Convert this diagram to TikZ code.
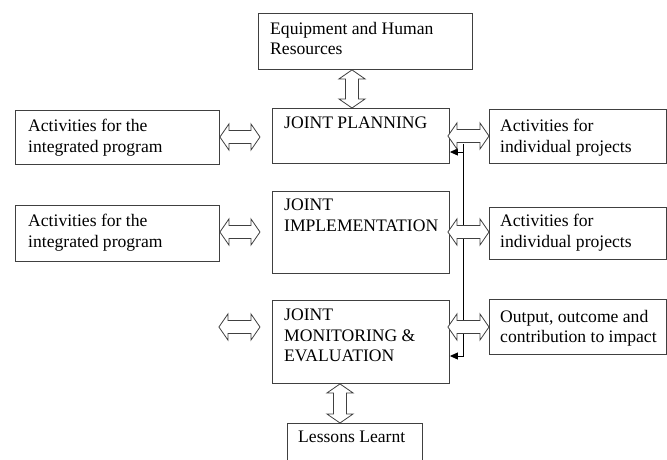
\documentclass[tikz,border=0pt]{standalone}
\usepackage{fontspec}
\setmainfont{Liberation Serif}
\usetikzlibrary{arrows.meta,calc}
\tikzset{
  box/.style={draw=black!75, line width=0.9pt, inner sep=0, fill=none},
  txt/.style={anchor=north west, inner sep=0, align=left, font=\fontsize{17.6}{20.5}\selectfont},
  hdbl/.style={draw=black!75, line width=0.8pt, fill=white,
    to path={let \p1=(\tikztostart), \p2=(\tikztotarget) in
      (\x1,\y1) -- (\x1+9pt,\y1+13pt) -- (\x1+9pt,\y1+6.5pt) -- (\x2-9pt,\y1+6.5pt) -- (\x2-9pt,\y1+13pt)
      -- (\x2,\y1) -- (\x2-9pt,\y1-13pt) -- (\x2-9pt,\y1-6.5pt) -- (\x1+9pt,\y1-6.5pt) -- (\x1+9pt,\y1-13pt) -- cycle}},
  vdbl/.style={draw=black!75, line width=0.8pt, fill=white,
    to path={let \p1=(\tikztostart), \p2=(\tikztotarget) in
      (\x1,\y1) -- (\x1+13pt,\y1-9pt) -- (\x1+6.5pt,\y1-9pt) -- (\x1+6.5pt,\y2+9pt) -- (\x1+13pt,\y2+9pt)
      -- (\x1,\y2) -- (\x1-13pt,\y2+9pt) -- (\x1-6.5pt,\y2+9pt) -- (\x1-6.5pt,\y1-9pt) -- (\x1-13pt,\y1-9pt) -- cycle}},
  fb/.style={draw=black, line width=0.9pt, -{Triangle[length=8pt,width=7pt]}}
}
\begin{document}
\begin{tikzpicture}[x=1pt,y=-1pt]
\useasboundingbox (0,0) rectangle (667,459);
\clip (0,0) rectangle (667,459);
% boxes
\node[box, minimum width=214pt, minimum height=56pt, anchor=north west] (equip) at (258,13) {};
\node[box, minimum width=177pt, minimum height=55pt, anchor=north west] (plan) at (272,108) {};
\node[box, minimum width=177pt, minimum height=82pt, anchor=north west] (impl) at (272,191) {};
\node[box, minimum width=177pt, minimum height=83pt, anchor=north west] (mon) at (272,300) {};
\node[box, minimum width=135pt, minimum height=50pt, anchor=north west] (lessons) at (287,423) {};
\node[box, minimum width=204pt, minimum height=54pt, anchor=north west] (l1) at (15,110) {};
\node[box, minimum width=204pt, minimum height=56pt, anchor=north west] (l2) at (15,205) {};
\node[box, minimum width=177pt, minimum height=54pt, anchor=north west] (r1) at (489,109) {};
\node[box, minimum width=177pt, minimum height=52pt, anchor=north west] (r2) at (489,207) {};
\node[box, minimum width=177pt, minimum height=55pt, anchor=north west] (r3) at (489,299) {};
% texts
\node[txt] (tequip) at (270,22) {Equipment and Human\\Resources};
\node[txt] (tplan) at (284,117) {JOINT PLANNING};
\node[txt] (timpl) at (284,199) {JOINT\\IMPLEMENTATION};
\node[txt] (tmon) at (284,309) {JOINT\\MONITORING \&\\EVALUATION};
\node[txt] (tless) at (298,431) {Lessons Learnt};
\node[txt] (tl1) at (28,119) {Activities for the\\integrated program};
\node[txt] (tl2) at (28,214) {Activities for the\\integrated program};
\node[txt] (tr1) at (500,119) {Activities for\\individual projects};
\node[txt] (tr2) at (500,214) {Activities for\\individual projects};
\node[txt] (tr3) at (500,310) {Output, outcome and\\contribution to impact};
% feedback line
\coordinate (fbtop) at ($(plan.east)+(14,8)$);
\draw[draw=black, line width=0.9pt] (fbtop) -- (fbtop |- 0,356);
\draw[fb] (fbtop |- 0,152) -- (plan.east |- 0,152);
\draw[fb] (fbtop |- 0,356) -- (mon.east |- 0,356);
% double arrows
\path[hdbl] (l1.east |- 0,137) to ([xshift=-12pt]plan.west |- 0,137);
\path[hdbl] (l2.east |- 0,232) to ([xshift=-12pt]impl.west |- 0,232);
\path[hdbl] ([xshift=-1pt]l2.east |- 0,327) to ([xshift=-12pt]mon.west |- 0,327);
\path[hdbl] ([xshift=-2pt]plan.east |- 0,136) to (r1.west |- 0,136);
\path[hdbl] ([xshift=-2pt]impl.east |- 0,232) to (r2.west |- 0,232);
\path[hdbl] ([xshift=-2pt]mon.east |- 0,327) to (r3.west |- 0,327);
\path[vdbl] (352,0 |- equip.south) to (352,0 |- plan.north);
\path[vdbl] (340,0 |- mon.south) to (340,0 |- lessons.north);
\end{tikzpicture}
\end{document}
